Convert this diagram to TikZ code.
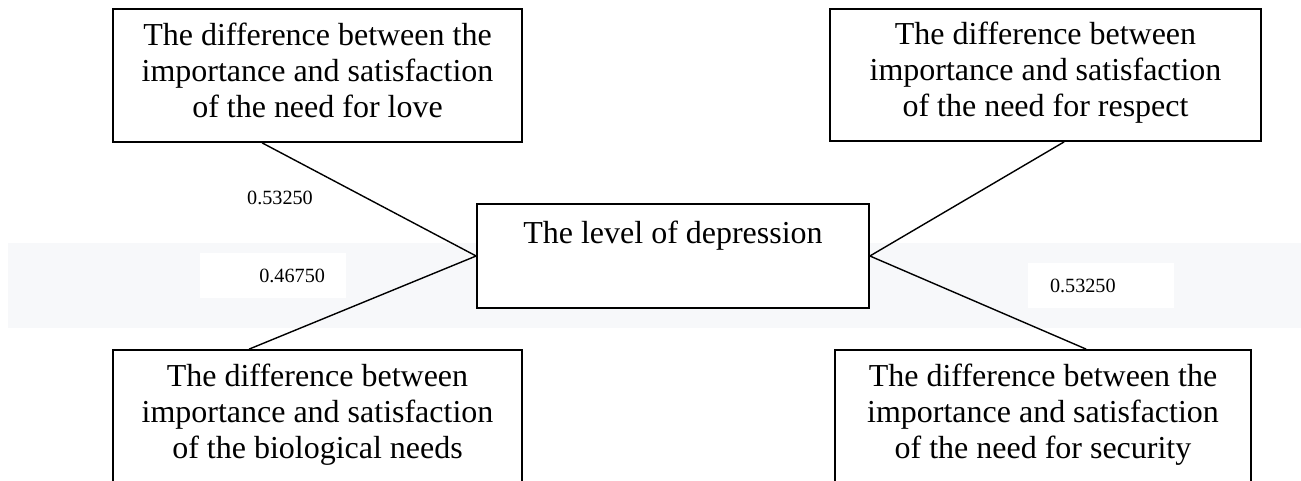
\documentclass[tikz,border=0pt]{standalone}
\usepackage{fontspec}
\setmainfont{Liberation Serif}
\usepackage{tikz}
\usetikzlibrary{calc}
\definecolor{bandgray}{HTML}{F7F8FA}

\begin{document}
\begin{tikzpicture}[block/.style = {rectangle, draw, line width=1pt, fill=white, align=center, font=\fontsize{18.2}{20.5}\selectfont},
weight/.style = {rectangle, inner ysep=0pt, font=\fontsize{11.5}{13}\selectfont}
]
\useasboundingbox (0,0) rectangle (26.02,-9.62);
%background band
\fill[bandgray] (0.16,-4.86) rectangle (26.02,-6.56);

\node (depression)[block, minimum width=7.84cm, minimum height=2.08cm] at (13.46,-5.12) {The level of depression\\\strut};
\node (needlove)[block, minimum width=8.18cm, minimum height=2.66cm] at (6.35,-1.51) {The difference between the\\importance and satisfaction\\of the need for love\strut};
\node (needrespect)[block, minimum width=8.62cm, minimum height=2.64cm] at (20.91,-1.50) {The difference between\\importance and satisfaction\\of the need for respect\strut};
\node (needbio)[block, minimum width=8.18cm, minimum height=2.66cm] at (6.35,-8.33) {The difference between\\importance and satisfaction\\of the biological needs\strut};
\node (needsecurity)[block, minimum width=8.32cm, minimum height=2.66cm] at (20.86,-8.33) {The difference between the\\importance and satisfaction\\of the need for security\strut};

\node (weightlove)[weight] at (5.6,-3.96) {0.53250};
\node (weightbio)[weight, fill=white, minimum height=0.9cm, inner xsep=0.42cm, text width=2.08cm, align=right] at (5.46,-5.51) {0.46750};
\node (weightsecurity)[weight, fill=white, minimum height=0.9cm, inner xsep=0.44cm, text width=2.04cm, align=left] at (22.02,-5.71) {0.53250};

\draw[line width=0.8pt] ($(needlove.south west)+(3.0,0)$) -- (depression.west);
\draw[line width=0.8pt] ($(needbio.north west)+(2.74,0)$) -- (depression.west);
\draw[line width=0.8pt] ($(needrespect.south west)+(4.7,0)$) -- (depression.east);
\draw[line width=0.8pt] ($(needsecurity.north west)+(5.04,0)$) -- (depression.east);

\end{tikzpicture}
\end{document}
